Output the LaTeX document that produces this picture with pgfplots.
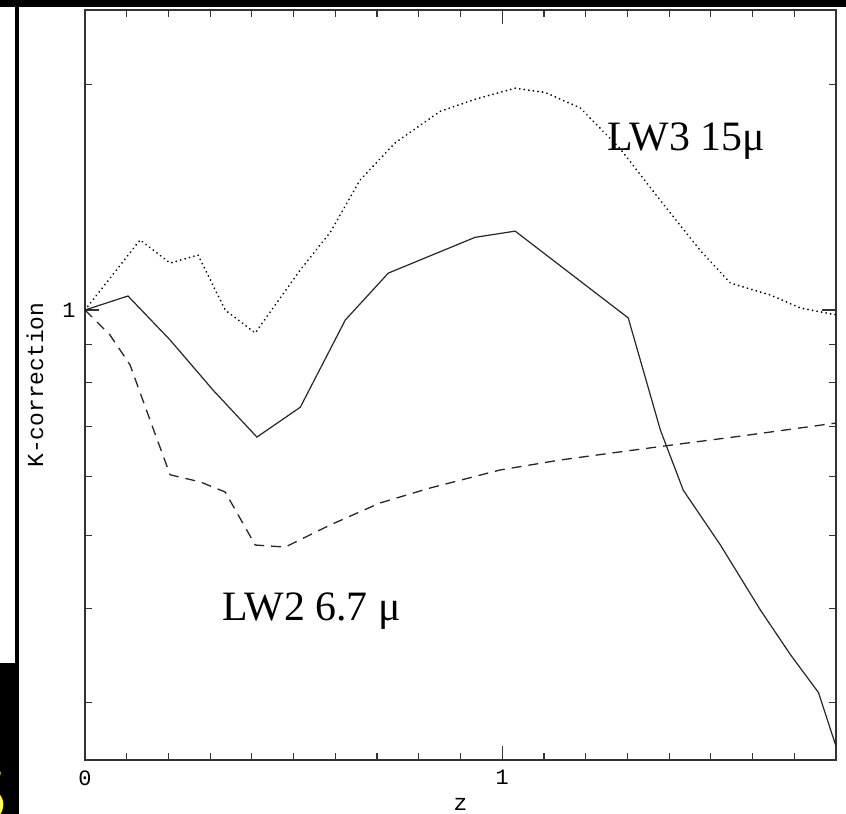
\documentclass[border=0pt]{standalone}
\usepackage{pgfplots}
\pgfplotsset{compat=1.18}
\usepackage{fontspec}
\setmainfont{Liberation Serif}
\newfontfamily\annfont{Liberation Serif}
\newfontfamily\plotfont{Liberation Mono}

\begin{document}
\begin{tikzpicture}
% page background and frame
\fill[white] (0bp,0bp) rectangle (846bp,-814bp);
\useasboundingbox (0bp,0bp) rectangle (846bp,-814bp);
\fill[black] (0bp,0bp) rectangle (846bp,-7bp);
\fill[black] (15bp,0bp) rectangle (19bp,-814bp);
\fill[black] (0bp,-663bp) rectangle (19bp,-814bp);
\begin{scope}
  \clip (0bp,-663bp) rectangle (15bp,-814bp);
  \node[text={rgb,255:red,255;green,255;blue,90}, font=\sffamily\bfseries\fontsize{70}{70}\selectfont,
        anchor=base east, inner sep=0pt] at (8bp,-818bp) {S};
\end{scope}

\begin{axis}[
  at={(85bp,-760bp)}, anchor=south west,
  scale only axis, width=751bp, height=750bp,
  xmin=0, xmax=1.8,
  ymode=log, ymin=0.25119, ymax=2.51189,
  xtick={0,1}, xticklabels={0,1},
  minor xtick={0.1,0.2,0.3,0.4,0.5,0.6,0.7,0.8,0.9,1.1,1.2,1.3,1.4,1.5,1.6,1.7},
  ytick={1}, yticklabels={1},
  minor ytick={0.3,0.4,0.5,0.6,0.7,0.8,0.9,2},
  tick align=inside,
  major tick length=14bp, minor tick length=7bp,
  every tick/.style={black!80, line width=1.2bp},
  axis line style={black!80, line width=1.5bp},
  ticklabel style={font=\plotfont\fontsize{22}{22}\selectfont},
  xticklabel style={yshift=-7bp},
  yticklabel style={xshift=-6bp},
  xlabel={z}, ylabel={K-correction},
  label style={font=\plotfont\fontsize{23}{23}\selectfont},
  xlabel style={at={(axis description cs:0.5,-0.0675)}, anchor=base},
  ylabel style={at={(axis description cs:-0.0666,0.5)}, anchor=center},
  clip=true,
]
% solid curve
\addplot[black!85, line width=1.2bp] coordinates {
  (0.000,1.000) (0.103,1.044) (0.204,0.912) (0.307,0.782) (0.412,0.677)
  (0.516,0.742) (0.624,0.970) (0.727,1.120) (0.935,1.250) (1.031,1.274)
  (1.302,0.976) (1.379,0.692) (1.434,0.575) (1.523,0.486) (1.619,0.398)
  (1.691,0.347) (1.758,0.309) (1.801,0.261)
};
% LW3 15 micron (dotted)
\addplot[black, line width=1.9bp, line cap=round, dash pattern=on 0.1bp off 4.5bp] coordinates {
  (0.000,1.000) (0.132,1.240) (0.204,1.155) (0.271,1.184) (0.336,1.000)
  (0.408,0.932) (0.516,1.131) (0.588,1.270) (0.659,1.490) (0.743,1.670)
  (0.851,1.840) (0.935,1.910) (1.031,1.976) (1.103,1.950) (1.187,1.860)
  (1.283,1.640) (1.379,1.400) (1.475,1.200) (1.547,1.086) (1.643,1.047)
  (1.715,1.006) (1.801,0.985)
};
% LW2 6.7 micron (dashed)
\addplot[black!85, line width=1.3bp, dash pattern=on 10bp off 7bp] coordinates {
  (0.000,1.000) (0.060,0.926) (0.108,0.845) (0.156,0.713) (0.204,0.603)
  (0.276,0.590) (0.336,0.572) (0.408,0.486) (0.480,0.483) (0.588,0.517)
  (0.707,0.553) (0.827,0.579) (0.995,0.612) (1.139,0.631) (1.283,0.647)
  (1.427,0.663) (1.571,0.679) (1.801,0.707)
};
\end{axis}

\node[anchor=base west, inner sep=0pt, font=\annfont\fontsize{42}{42}\selectfont] at (607bp,-150bp) {LW3 15μ};
\node[anchor=base west, inner sep=0pt, font=\annfont\fontsize{42}{42}\selectfont] at (222bp,-620bp) {LW2 6.7 μ};
\end{tikzpicture}
\end{document}
